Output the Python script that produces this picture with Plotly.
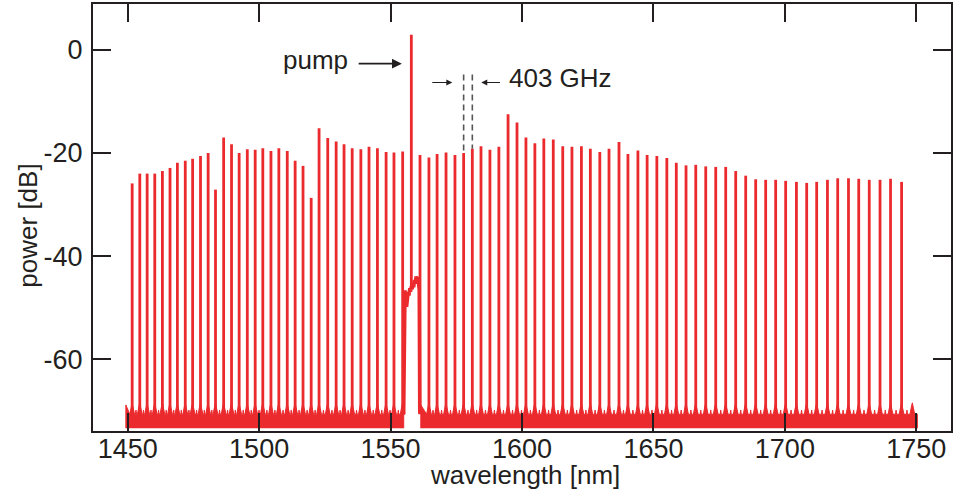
import plotly.graph_objects as go

# ---------------- data ----------------
comb_nm = [1451.7, 1454.6, 1457.4, 1460.3, 1463.2, 1466.1, 1468.9, 1471.9, 1474.7, 1477.7,
           1480.6, 1483.4, 1486.5, 1489.5, 1492.4, 1495.5, 1498.5, 1501.4, 1504.5, 1507.5,
           1510.7, 1513.7, 1516.7, 1519.8, 1522.8, 1526.1, 1529.3, 1532.3, 1535.4, 1538.7,
           1541.8, 1545.0, 1548.3, 1551.3, 1554.6,
           1561.2, 1564.6, 1567.7, 1571.1, 1574.5, 1577.8, 1581.1, 1584.4, 1587.8, 1591.2,
           1594.7, 1598.1, 1601.5, 1604.9, 1608.3, 1611.9, 1615.5, 1619.0, 1622.6, 1626.0,
           1629.6, 1633.1, 1636.9, 1640.3, 1644.1, 1647.6, 1651.3, 1655.1, 1658.7, 1662.4,
           1666.1, 1669.9, 1673.7, 1677.5, 1681.3, 1685.1, 1688.9, 1692.7, 1696.5, 1700.3,
           1704.4, 1708.3, 1712.1, 1716.2, 1720.1, 1724.2, 1728.1, 1732.1, 1736.2, 1740.2,
           1744.4, 1748.5]
comb_db = [-25.9, -24.0, -24.0, -24.0, -23.5, -22.9, -21.9, -21.5, -21.1, -20.6,
           -20.0, -27.1, -17.0, -18.3, -20.0, -19.3, -19.4, -19.1, -19.6, -19.1,
           -19.6, -21.5, -22.5, -28.7, -15.2, -17.1, -17.8, -18.3, -19.1, -19.3,
           -18.8, -19.1, -19.8, -19.9, -19.7,
           -20.4, -20.9, -20.2, -19.9, -20.4, -20.0, -19.2, -18.7, -19.4, -18.8,
           -12.5, -14.1, -17.0, -18.1, -17.2, -17.4, -18.7, -18.8, -18.7, -19.2,
           -19.8, -19.2, -17.9, -20.2, -19.5, -20.4, -20.6, -21.0, -21.9, -22.4,
           -22.3, -22.6, -22.7, -22.7, -23.5, -24.4, -25.1, -25.2, -25.2, -25.4,
           -25.6, -25.8, -25.6, -25.2, -24.9, -24.9, -25.0, -25.2, -25.2, -25.0,
           -25.6]
pump_nm = 1557.9
pump_db = 2.9

# plateau of the pump-region trace (filtered region around the pump)
plateau_nm = [1555.0, 1555.2, 1555.5, 1555.8, 1556.1, 1556.4, 1556.7, 1557.0, 1557.3, 1557.6,
              1557.9, 1558.2, 1558.5, 1558.8, 1559.1, 1559.4, 1559.7, 1560.0, 1560.3, 1560.6,
              1560.9, 1561.1]
plateau_db = [-70.5, -47.8, -46.6, -48.2, -49.8, -48.4, -46.9, -47.6, -46.2, -46.9,
              -45.8, -46.4, -45.2, -46.0, -44.6, -45.3, -43.9, -44.8, -44.0, -45.1,
              -46.5, -70.5]

# noise floor of the OSA trace
noise_band_nm = [[1449.3, 1555.0], [1561.5, 1750.4]]
noise_bottom_db = -73.3
noise_floor_db = -70.6
noise_mid_db = -69.8
noise_skirt_db = -68.4

x_ticks = [1450, 1500, 1550, 1600, 1650, 1700, 1750]
y_ticks = [-60, -40, -20, 0]
y_tick_text = ["-60", "-40", "-20", "0"]

RED = "#EB2A2E"
INK = "#231F20"
FONT = "Liberation Sans, Arial, Helvetica, sans-serif"

fig = go.Figure()

# noise band (filled), shaped around the comb line positions
all_lines = sorted(comb_nm + [pump_nm])
for lo, hi in noise_band_nm:
    xs = [lo, lo]
    ys = [noise_bottom_db, noise_skirt_db - 0.4]
    inside = [l for l in all_lines if lo < l < hi]
    for k, lam in enumerate(inside):
        xs += [lam - 0.9, lam - 0.3, lam, lam + 0.3, lam + 0.9]
        ys += [noise_floor_db, noise_skirt_db - 0.6, noise_skirt_db, noise_skirt_db - 0.8, noise_floor_db]
        if k + 1 < len(inside):
            mid = (lam + inside[k + 1]) / 2
            xs += [mid - 0.2, mid, mid + 0.2]
            ys += [noise_floor_db, noise_mid_db, noise_floor_db]
    xs += [hi, hi]
    ys += [noise_floor_db, noise_bottom_db]
    fig.add_trace(go.Scatter(x=xs, y=ys, fill="toself", fillcolor=RED, mode="lines",
                             line=dict(color=RED, width=1), hoverinfo="skip", showlegend=False))

# plateau around pump
fig.add_trace(go.Scatter(x=plateau_nm, y=plateau_db, mode="lines",
                         line=dict(color=RED, width=3.5), showlegend=False))

# comb lines
lx, ly = [], []
for lam, p in zip(comb_nm, comb_db):
    lx += [lam, lam, None]
    ly += [noise_floor_db, p, None]
lx += [pump_nm, pump_nm, None]
ly += [-46.0, pump_db, None]
fig.add_trace(go.Scatter(x=lx, y=ly, mode="lines", line=dict(color=RED, width=2.8),
                         showlegend=False))

# dashed markers for 403 GHz spacing
i1 = comb_nm.index(1577.8)
i2 = comb_nm.index(1581.1)
for i in (i1, i2):
    fig.add_trace(go.Scatter(x=[comb_nm[i], comb_nm[i]], y=[-4.8, comb_db[i]], mode="lines",
                             line=dict(color="#555555", width=1.6, dash="6px,4px"),
                             showlegend=False))

axis_common = dict(showline=True, linecolor=INK, linewidth=2, mirror="allticks",
                   ticks="inside", ticklen=18, tickwidth=2, tickcolor=INK,
                   showgrid=False, zeroline=False,
                   tickfont=dict(family=FONT, size=27, color=INK))

fig.update_layout(
    width=955, height=493,
    margin=dict(l=93, r=3, t=2, b=62),
    plot_bgcolor="white", paper_bgcolor="white",
    xaxis=dict(range=[1436.8, 1763.2], tickvals=x_ticks, ticklabelstandoff=-7, **axis_common),
    yaxis=dict(range=[-73.85, 8.85], tickvals=y_ticks, ticktext=y_tick_text,
               ticklabelstandoff=3, **axis_common),
)

annos = [
    dict(text="wavelength [nm]", xref="paper", yref="paper", x=0.503, y=-0.104,
         showarrow=False, xanchor="center", yanchor="middle",
         font=dict(family=FONT, size=26, color=INK)),
    dict(text="power [dB]", xref="paper", yref="paper", x=-0.0757, y=0.481, textangle=-90,
         showarrow=False, xanchor="center", yanchor="middle",
         font=dict(family=FONT, size=26, color=INK)),
    dict(text="pump", xref="x", yref="y", x=1534.5, y=-1.9, showarrow=False,
         xanchor="right", yanchor="middle", font=dict(family=FONT, size=26, color=INK)),
    dict(x=1554.3, y=-2.7, ax=1537.3, ay=-2.7, xref="x", yref="y", axref="x", ayref="y",
         text="", showarrow=True, arrowhead=2, arrowsize=1.1, arrowwidth=1.8, arrowcolor=INK),
    dict(x=1573.5, y=-6.35, ax=1565.3, ay=-6.35, xref="x", yref="y", axref="x", ayref="y",
         text="", showarrow=True, arrowhead=2, arrowsize=1.0, arrowwidth=1.2, arrowcolor=INK),
    dict(x=1584.5, y=-6.35, ax=1592.2, ay=-6.35, xref="x", yref="y", axref="x", ayref="y",
         text="", showarrow=True, arrowhead=2, arrowsize=1.0, arrowwidth=1.2, arrowcolor=INK),
    dict(text="403 GHz", xref="x", yref="y", x=1594.3, y=-5.5, showarrow=False,
         xanchor="left", yanchor="middle", font=dict(family=FONT, size=26, color=INK)),
]
fig.update_layout(annotations=annos)

fig.write_html("out.html")
